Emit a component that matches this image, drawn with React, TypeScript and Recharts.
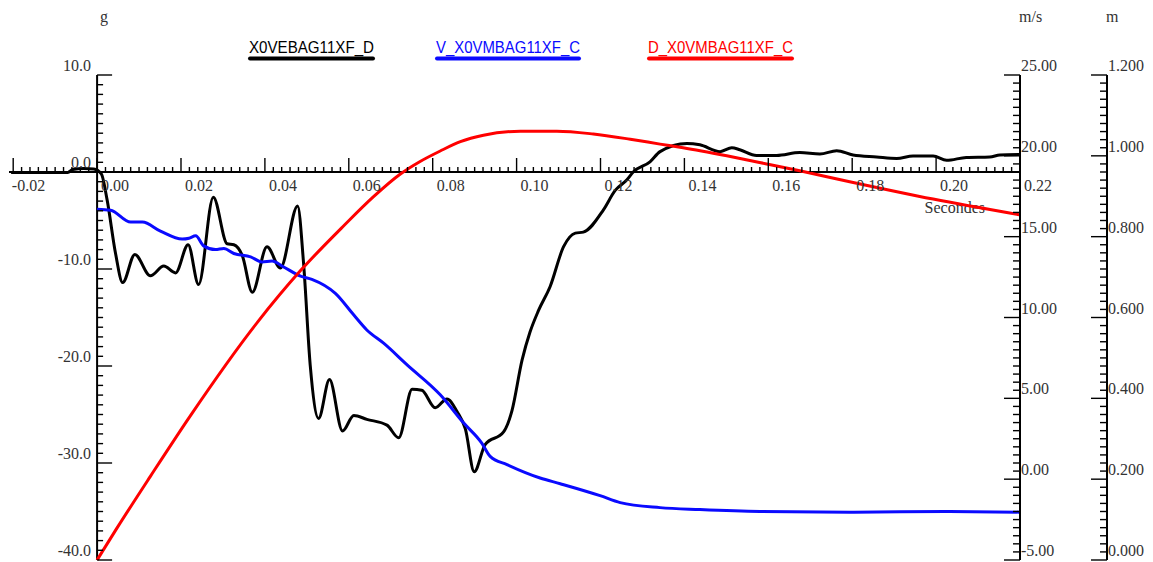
import { ComposedChart, Line, XAxis, YAxis, ReferenceLine } from "recharts";

// acceleration X0VEBAG11XF_D (g)
const accelT = [
  -0.0205, -0.007, -0.0058, -0.0032, -0.0008, 0.001, 0.0024, 0.0044, 0.0061, 0.009,
  0.0127, 0.0159, 0.0187, 0.0217, 0.0242, 0.0277, 0.031, 0.0326, 0.0346, 0.037,
  0.0405, 0.0437, 0.0478, 0.0492, 0.0508, 0.0528, 0.0554, 0.0585, 0.0612, 0.0643,
  0.0691, 0.0719, 0.0751, 0.0774, 0.0806, 0.0834, 0.0858, 0.0878, 0.0899, 0.0925,
  0.0969, 0.0989, 0.1013, 0.1032, 0.1052, 0.108, 0.1112, 0.114, 0.1159, 0.1207,
  0.1235, 0.1263, 0.1278, 0.1318, 0.1342, 0.1406, 0.1437, 0.1485, 0.1513, 0.1532,
  0.1572, 0.162, 0.1675, 0.1723, 0.1763, 0.1802, 0.1858, 0.1906, 0.1945, 0.1993,
  0.2025, 0.2072, 0.2128, 0.2152, 0.2199,
];
const accelG = [
  -0.05, -0.05, 0.25, 0.35, 0.3, -0.2, -2.9, -8.4, -11.4, -8.5,
  -10.7, -9.7, -10.4, -7.5, -11.6, -2.6, -7.4, -7.5, -8.6, -12.4,
  -7.7, -9.9, -3.5, -9.3, -19.9, -25.4, -21.4, -26.7, -25.1, -25.5,
  -26.1, -27.4, -22.4, -22.5, -24.3, -23.4, -24.7, -26.5, -30.9, -28.1,
  -26.8, -24.6, -19.4, -16.5, -14.3, -11.8, -7.7, -6.3, -6.2, -3.9,
  -1.9, -0.8, 0.0, 1.05, 2.1, 2.95, 2.8, 2.1, 2.5, 2.3,
  1.7, 1.7, 2.0, 1.85, 2.2, 1.75, 1.55, 1.4, 1.65, 1.65,
  1.2, 1.5, 1.55, 1.75, 1.8,
];

// velocity V_X0VMBAG11XF_C (m/s)
const velT = [
  0.0, 0.0032, 0.008, 0.0108, 0.0151, 0.0203, 0.0219, 0.0235, 0.0254, 0.0282,
  0.0302, 0.0326, 0.0366, 0.0393, 0.0417, 0.0441, 0.0485, 0.0512, 0.0568, 0.0612,
  0.0643, 0.0683, 0.0739, 0.0818, 0.0874, 0.0917, 0.0937, 0.0977, 0.1056, 0.1104,
  0.1199, 0.1247, 0.1342, 0.1437, 0.158, 0.1794, 0.2032, 0.2199,
];
const velMs = [
  16.7, 16.64, 15.9, 15.9, 15.34, 14.85, 14.9, 15.05, 14.43, 14.2,
  14.27, 13.96, 13.75, 13.44, 13.49, 13.18, 12.56, 12.36, 11.49, 10.15,
  9.23, 8.41, 7.07, 5.22, 3.47, 2.23, 1.41, 0.9, 0.07, -0.28,
  -1.02, -1.45, -1.76, -1.88, -2.0, -2.04, -2.0, -2.04,
];

// displacement D_X0VMBAG11XF_C (m)
const dispT = [
  0.0, 0.0048, 0.0127, 0.0223, 0.0382, 0.0485, 0.0588, 0.0659, 0.0723, 0.077,
  0.0818, 0.0866, 0.0921, 0.1009, 0.1096, 0.1183, 0.1271, 0.1342, 0.1397, 0.1501,
  0.1596, 0.1675, 0.1794, 0.1993, 0.2199,
];
const dispM = [
  0.0, 0.08, 0.207, 0.358, 0.588, 0.716, 0.827, 0.899, 0.955, 0.986,
  1.012, 1.035, 1.051, 1.061, 1.061, 1.054, 1.041, 1.029, 1.02, 1.0,
  0.98, 0.963, 0.936, 0.893, 0.854,
];

// major (labelled) ticks
const xMajor = [-0.02, 0, 0.02, 0.04, 0.06, 0.08, 0.1, 0.12, 0.14, 0.16, 0.18, 0.2, 0.22];
const gMajor = [-40, -30, -20, -10, 0, 10];
const msMajor = [-5, 0, 5, 10, 15, 20, 25];
const mMajor = [0, 0.2, 0.4, 0.6, 0.8, 1.0, 1.2];

const seriesNames = ["X0VEBAG11XF_D", "V_X0VMBAG11XF_C", "D_X0VMBAG11XF_C"];
const seriesColors = ["#000000", "#0a0aff", "#ff0000"];

const accelData = accelT.map((t, i) => ({ t, v: accelG[i] }));
const velData = velT.map((t, i) => ({ t, v: velMs[i] }));
const dispData = dispT.map((t, i) => ({ t, v: dispM[i] }));

// minor ticks between the labelled ones
const xTicks = Array.from({ length: 121 }, (_, i) => Number(((i - 10) * 0.002).toFixed(3)));
const gTicks = Array.from({ length: 51 }, (_, i) => i - 40);
const msTicks = Array.from({ length: 61 }, (_, i) => i * 0.5 - 5);
const mTicks = Array.from({ length: 61 }, (_, i) => Number((i * 0.02).toFixed(2)));

const CHART_W = 1145;
const CHART_H = 554;
const MARGIN = { top: 67, right: 0, bottom: 1, left: 0 };
const G_AXIS_W = 1;
const X_AXIS_H = 1;
const MS_AXIS_W = 87;
const M_AXIS_W = 46;
const PLOT_LEFT = MARGIN.left + G_AXIS_W;
const PLOT_W = CHART_W - PLOT_LEFT - MARGIN.right - MS_AXIS_W - M_AXIS_W;
const PLOT_H = CHART_H - MARGIN.top - MARGIN.bottom - X_AXIS_H;
const T_MIN = -0.021;
const T_MAX = 0.22;
const ZERO_Y = MARGIN.top + (10 / 50) * PLOT_H;
const ZERO_X = PLOT_LEFT + (-T_MIN / (T_MAX - T_MIN)) * PLOT_W;
const RIGHT1_X = PLOT_LEFT + PLOT_W;
const RIGHT2_X = RIGHT1_X + MS_AXIS_W;

const serif = '"Liberation Serif", "Times New Roman", serif';
const sans = '"Liberation Sans", Arial, sans-serif';
const labelColor = "#333";

const isMajor = (v: number, majors: number[]) => majors.some((m) => Math.abs(m - v) < 1e-6);

function XTick(props: any) {
  const { x, payload } = props;
  const v = payload.value;
  const major = isMajor(v, xMajor);
  return (
    <g>
      <line x1={x} x2={x} y1={ZERO_Y} y2={ZERO_Y - (major ? 14 : 5)} stroke="#000" strokeWidth={1.4} />
      {major && (
        <text x={x + 32} y={ZERO_Y + 19} textAnchor="end" fontFamily={serif} fontSize={16} fill={labelColor}>
          {v.toFixed(2)}
        </text>
      )}
    </g>
  );
}

function GTick(props: any) {
  const { y, payload } = props;
  const v = payload.value;
  const major = isMajor(v, gMajor);
  return (
    <g>
      <line x1={ZERO_X} x2={ZERO_X + (major ? 15 : 6)} y1={y} y2={y} stroke="#000" strokeWidth={1.4} />
      {major && (
        <text x={ZERO_X - 6} y={y - 4} textAnchor="end" fontFamily={serif} fontSize={16} fill={labelColor}>
          {v.toFixed(1)}
        </text>
      )}
    </g>
  );
}

function makeRightTick(majors: number[], digits: number) {
  return (props: any) => {
    const { x, y, payload } = props;
    const v = payload.value;
    const major = isMajor(v, majors);
    return (
      <g>
        <line x1={x - (major ? 16 : 7)} x2={x} y1={y} y2={y} stroke="#000" strokeWidth={1.4} />
        {major && (
          <text x={x + 1} y={y - 4} textAnchor="start" fontFamily={serif} fontSize={16} fill={labelColor}>
            {v.toFixed(digits)}
          </text>
        )}
      </g>
    );
  };
}

const MsTick = makeRightTick(msMajor, 2);
const MTick = makeRightTick(mMajor, 3);

const legendPos = [
  { x: 240, w: 127 },
  { x: 427, w: 146 },
  { x: 639, w: 147 },
];

export default function App() {
  return (
    <ComposedChart width={CHART_W} height={CHART_H} margin={MARGIN}>
      <XAxis
        dataKey="t"
        type="number"
        domain={[T_MIN, T_MAX]}
        allowDataOverflow
        ticks={xTicks}
        interval={0}
        height={X_AXIS_H}
        tickSize={0}
        tickMargin={0}
        axisLine={false}
        tickLine={false}
        tick={<XTick />}
      />
      <YAxis
        yAxisId="g"
        orientation="left"
        type="number"
        domain={[-40, 10]}
        ticks={gTicks}
        interval={0}
        width={G_AXIS_W}
        tickSize={0}
        tickMargin={0}
        axisLine={false}
        tickLine={false}
        tick={<GTick />}
      />
      <YAxis
        yAxisId="a_ms"
        orientation="right"
        type="number"
        domain={[-5, 25]}
        ticks={msTicks}
        interval={0}
        width={MS_AXIS_W}
        tickSize={0}
        tickMargin={0}
        axisLine={{ stroke: "#000", strokeWidth: 2 }}
        tickLine={false}
        tick={<MsTick />}
      />
      <YAxis
        yAxisId="b_m"
        orientation="right"
        type="number"
        domain={[0, 1.2]}
        ticks={mTicks}
        interval={0}
        width={M_AXIS_W}
        tickSize={0}
        tickMargin={0}
        axisLine={{ stroke: "#000", strokeWidth: 2 }}
        tickLine={false}
        tick={<MTick />}
      />
      <ReferenceLine yAxisId="g" y={0} stroke="#000" strokeWidth={2} />
      <ReferenceLine yAxisId="g" x={0} stroke="#000" strokeWidth={2} />

      <Line yAxisId="g" data={accelData} dataKey="v" type="monotone" stroke={seriesColors[0]} strokeWidth={3} dot={false} isAnimationActive={false} />
      <Line yAxisId="a_ms" data={velData} dataKey="v" type="monotone" stroke={seriesColors[1]} strokeWidth={3} dot={false} isAnimationActive={false} />
      <Line yAxisId="b_m" data={dispData} dataKey="v" type="monotone" stroke={seriesColors[2]} strokeWidth={3} dot={false} isAnimationActive={false} />

      {/* unit labels */}
      <text x={ZERO_X + 3} y={14} fontFamily={serif} fontSize={16} fill={labelColor}>g</text>
      <text x={RIGHT1_X - 1} y={14} fontFamily={serif} fontSize={16} fill={labelColor}>m/s</text>
      <text x={RIGHT2_X - 1} y={14} fontFamily={serif} fontSize={16} fill={labelColor}>m</text>
      <text x={RIGHT1_X - 35} y={205} textAnchor="end" fontFamily={serif} fontSize={16} fill={labelColor}>Secondes</text>

      {/* legend */}
      {seriesNames.map((name, i) => (
        <g key={name}>
          <text
            x={legendPos[i].x + 1}
            y={44.5}
            fontFamily={sans}
            fontSize={16}
            fill={seriesColors[i]}
            textLength={legendPos[i].w - 2}
            lengthAdjust="spacingAndGlyphs"
          >
            {name}
          </text>
          <rect x={legendPos[i].x} y={48.5} width={legendPos[i].w} height={4} rx={2} fill={seriesColors[i]} />
        </g>
      ))}
    </ComposedChart>
  );
}
